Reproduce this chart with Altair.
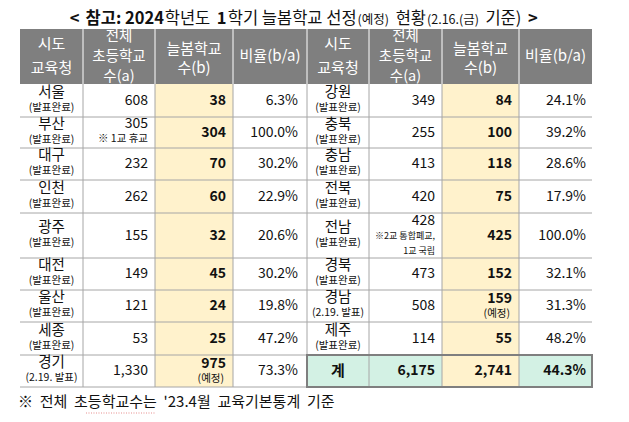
import altair as alt
import pandas as pd

# ---------------- data ----------------
title_text = ["<", "참고: 2024", "학년도", "1", "학기 늘봄학교 선정", "(예정)", "현황", "(2.16.(금)", "기준)", ">"]
title_bold = [True, True, False, True, False, False, False, False, False, True]
title_small = [False, False, False, False, False, True, False, True, False, False]
title_space_after = [True, False, True, False, False, True, False, True, True, False]

header_lines = [["시도", "교육청"], ["전체", "초등학교", "수(a)"], ["늘봄학교", "수(b)"], ["비율(b/a)"]]

regions_left = ["서울", "부산", "대구", "인천", "광주", "대전", "울산", "세종", "경기"]
status_left = ["(발표완료)"] * 8 + ["(2.19. 발표)"]
schools_left = ["608", "305", "232", "262", "155", "149", "121", "53", "1,330"]
neulbom_left = ["38", "304", "70", "60", "32", "45", "24", "25", "975"]
ratio_left = ["6.3%", "100.0%", "30.2%", "22.9%", "20.6%", "30.2%", "19.8%", "47.2%", "73.3%"]

regions_right = ["강원", "충북", "충남", "전북", "전남", "경북", "경남", "제주", "계"]
status_right = ["(발표완료)"] * 6 + ["(2.19. 발표)", "(발표완료)", ""]
schools_right = ["349", "255", "413", "420", "428", "473", "508", "114", "6,175"]
neulbom_right = ["84", "100", "118", "75", "425", "152", "159", "55", "2,741"]
ratio_right = ["24.1%", "39.2%", "28.6%", "17.9%", "100.0%", "32.1%", "31.3%", "48.2%", "44.3%"]

school_notes = {("L", 1): ["※ 1교 휴교"], ("R", 4): ["※2교 통합폐교,", "1교 국립"]}
neulbom_notes = {("L", 8): ["(예정)"], ("R", 6): ["(예정)"]}

footnote_words = ["※", "전체", "초등학교수는", "'23.4월", "교육기본통계", "기준"]
footnote = "\u00a0 ".join(footnote_words)

# ---------------- layout ----------------
W, H = 613, 406
OX, OY = 8, 8
col_widths = [63, 72, 78, 74, 62, 73, 77, 73]
row_heights = [33, 31, 32, 33, 45, 32, 32, 33, 32]
TABLE_X0, HEAD_Y0, HEAD_Y1 = 20, 29, 84

x_edges = [TABLE_X0]
for w in col_widths:
    x_edges.append(x_edges[-1] + w)
y_edges = [HEAD_Y1]
for h in row_heights:
    y_edges.append(y_edges[-1] + h)

GRAY = "#7f7f7f"
YELLOW = "#fff2cc"
MINT = "#d3f1e4"
LINE = "#a6a6a6"
TXT = "#111111"
FONT = "Noto Sans CJK KR"


def est_width(t, size, bold):
    w = 0.0
    for ch in t:
        if "\uac00" <= ch <= "\ud7a3" or ch == "※":
            w += 0.92
        elif ch.isdigit():
            w += 0.6 if bold else 0.555
        elif ch == " ":
            w += 0.224
        elif ch in ":.,":
            w += 0.27
        elif ch in "()":
            w += 0.34
        elif ch in "<>":
            w += 0.56
        else:
            w += 0.55
    return w * size


# cells
cells = []
for c in range(8):
    cells.append(dict(x=x_edges[c], x2=x_edges[c + 1], y=HEAD_Y0, y2=HEAD_Y1, fill=GRAY))
for r in range(9):
    for c in range(8):
        fill = None
        if c in (2, 6):
            fill = YELLOW
        elif r == 8 and c in (4, 5, 7):
            fill = MINT
        if fill:
            cells.append(dict(x=x_edges[c], x2=x_edges[c + 1], y=y_edges[r], y2=y_edges[r + 1], fill=fill))
cells_df = pd.DataFrame(cells)

# rules
rules = []
for c in range(1, 8):
    rules.append(dict(x=x_edges[c], x2=x_edges[c], y=HEAD_Y0, y2=HEAD_Y1, color="#ffffff", w=1))
for c in range(1, 8):
    rules.append(dict(x=x_edges[c], x2=x_edges[c], y=HEAD_Y1, y2=y_edges[-1], color=LINE, w=1))
for r in range(1, 10):
    rules.append(dict(x=x_edges[0], x2=x_edges[-1], y=y_edges[r], y2=y_edges[r], color=LINE, w=1))
rules_df = pd.DataFrame(rules)

box_df = pd.DataFrame([dict(x=x_edges[4], x2=x_edges[8], y=y_edges[8], y2=y_edges[9])])

# spell-check squiggle under a footnote word (as seen in the screenshot)
FOOT_X, FOOT_Y, FOOT_SIZE = 18, 402, 15
sq_x0 = FOOT_X + est_width("※\u00a0 전체\u00a0 ", FOOT_SIZE, False) + 0.224 * FOOT_SIZE
sq_x1 = sq_x0 + est_width("초등학교수", FOOT_SIZE, False)
squiggle_df = pd.DataFrame([dict(x=sq_x0, x2=sq_x1, y=FOOT_Y + 11, y2=FOOT_Y + 11)])

# texts
texts = []


def add(x, y, t, size, bold=False, align="center", color=TXT, baseline="middle"):
    texts.append(dict(x=x, y=y, text=t, size=size, bold=bold, align=align, color=color, baseline=baseline))


# title (segments laid out one after another, centred over the table)
BIG, SMALL = 16.5, 12.5
sizes = [SMALL if s else BIG for s in title_small]
widths = []
for t, b, s, sp in zip(title_text, title_bold, sizes, title_space_after):
    widths.append(est_width(t, s, b) + (0.4 * BIG if sp else 1.0))
cx_table = (x_edges[0] + x_edges[-1]) / 2 - 2
cur = cx_table - sum(widths) / 2
for t, b, s, w in zip(title_text, title_bold, sizes, widths):
    add(cur, 23.5, t, s, b, "left", TXT, "alphabetic")
    cur += w

# header
for half in range(2):
    for k, lines in enumerate(header_lines):
        c = half * 4 + k
        cx = (x_edges[c] + x_edges[c + 1]) / 2
        size = 15
        if len(lines) == 1:
            ys_ = [56]
        elif len(lines) == 3:
            ys_ = [37, 57, 77]
            size = 14.5
        elif k == 0:
            ys_ = [44, 68]
        else:
            ys_ = [49, 68]
        for t, yy in zip(lines, ys_):
            add(cx, yy, t, size, False, "center", "#ffffff")

# body
halves = [
    ("L", 0, regions_left, status_left, schools_left, neulbom_left, ratio_left),
    ("R", 4, regions_right, status_right, schools_right, neulbom_right, ratio_right),
]
for side, c0, regs, stats, schools, neul, ratios in halves:
    for r in range(9):
        yc = (y_edges[r] + y_edges[r + 1]) / 2
        cx = (x_edges[c0] + x_edges[c0 + 1]) / 2
        total_row = side == "R" and r == 8
        if total_row:
            add(cx, yc, regs[r], 15, True)
        else:
            add(cx, yc - 8, regs[r], 14.5)
            add(cx, yc + 7.2, stats[r], 10.5)
        # schools
        xr = x_edges[c0 + 2] - 7
        notes = school_notes.get((side, r))
        if notes and len(notes) == 2:
            add(xr, yc - 14.5, schools[r], 14, False, "right")
            add(xr, yc + 0.5, notes[0], 9, False, "right")
            add(xr, yc + 15, notes[1], 9, False, "right")
        elif notes:
            add(xr, yc - 9, schools[r], 14, False, "right")
            add(xr, yc + 6.5, notes[0], 10.5, False, "right")
        else:
            add(xr, yc, schools[r], 14, total_row, "right")
        # neulbom
        xr = x_edges[c0 + 3] - 7
        notes = neulbom_notes.get((side, r))
        if notes:
            add(xr, yc - 7.5, neul[r], 14, True, "right")
            add(xr - 2, yc + 7.5, notes[0], 10.5, False, "right")
        else:
            add(xr, yc, neul[r], 14, True, "right")
        # ratio
        xr = x_edges[c0 + 4] - (9 if side == "L" else 6)
        add(xr, yc, ratios[r], 14, total_row, "right")

add(FOOT_X, FOOT_Y, footnote, FOOT_SIZE, False, "left")

texts_df = pd.DataFrame(texts)

# ---------------- chart ----------------
xs = alt.Scale(domain=[OX, OX + W], range=[0, W], nice=False, zero=False)
ys = alt.Scale(domain=[OY, OY + H], range=[0, H], nice=False, zero=False)

cell_layer = alt.Chart(cells_df).mark_rect(strokeWidth=0).encode(
    x=alt.X("x:Q", scale=xs, axis=None),
    x2="x2:Q",
    y=alt.Y("y:Q", scale=ys, axis=None),
    y2="y2:Q",
    fill=alt.Fill("fill:N", scale=None),
)

rule_layer = alt.Chart(rules_df).mark_rule().encode(
    x=alt.X("x:Q", scale=xs, axis=None),
    x2="x2:Q",
    y=alt.Y("y:Q", scale=ys, axis=None),
    y2="y2:Q",
    color=alt.Color("color:N", scale=None),
    strokeWidth=alt.StrokeWidth("w:Q", scale=None),
)

box_layer = alt.Chart(box_df).mark_rect(fillOpacity=0, stroke=GRAY, strokeWidth=2).encode(
    x=alt.X("x:Q", scale=xs, axis=None),
    x2="x2:Q",
    y=alt.Y("y:Q", scale=ys, axis=None),
    y2="y2:Q",
)

squiggle_layer = alt.Chart(squiggle_df).mark_rule(
    color="#e07070", strokeWidth=1.2, strokeDash=[1, 1.5], opacity=0.8
).encode(
    x=alt.X("x:Q", scale=xs, axis=None),
    x2="x2:Q",
    y=alt.Y("y:Q", scale=ys, axis=None),
)

layers = [cell_layer, rule_layer, box_layer, squiggle_layer]
for (bold, align, baseline), sub in texts_df.groupby(["bold", "align", "baseline"]):
    layers.append(
        alt.Chart(sub).mark_text(
            align=align, baseline=baseline, font=FONT,
            fontWeight="bold" if bold else "normal",
        ).encode(
            x=alt.X("x:Q", scale=xs, axis=None),
            y=alt.Y("y:Q", scale=ys, axis=None),
            text="text:N",
            size=alt.Size("size:Q", scale=None),
            color=alt.Color("color:N", scale=None),
        )
    )

chart = alt.layer(*layers).properties(
    width=W, height=H, padding=0, autosize=alt.AutoSizeParams(type="none"),
    background="#ffffff",
).configure_view(stroke=None)

chart.save("out.html", embed_options={"renderer": "svg", "actions": False})
